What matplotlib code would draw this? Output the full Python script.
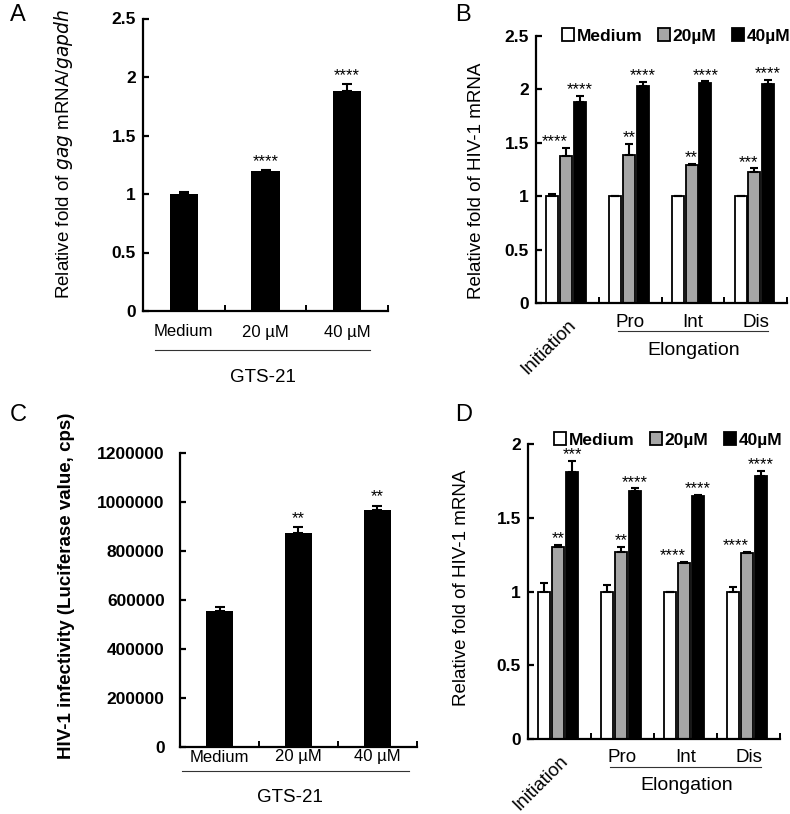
import matplotlib
matplotlib.use('Agg')
import matplotlib.pyplot as plt
from matplotlib.patches import Patch

plt.rcParams['font.family'] = ['Liberation Sans', 'DejaVu Sans']

W, H = 790, 814

# panel A
a_labels = ['Medium', '20 µM', '40 µM']
a_values = [1.00, 1.20, 1.88]
a_errors = [0.02, 0.005, 0.06]
a_stars = ['', '****', '****']

# panel B
groups = ['Initiation', 'Pro', 'Int', 'Dis']
series = ['Medium', '20µM', '40µM']
b_medium = [1.00, 1.00, 1.00, 1.00]
b_20 = [1.38, 1.39, 1.29, 1.23]
b_40 = [1.88, 2.03, 2.06, 2.05]
b_medium_err = [0.02, 0.0, 0.0, 0.0]
b_20_err = [0.07, 0.10, 0.01, 0.03]
b_40_err = [0.06, 0.04, 0.015, 0.04]
b_20_stars = ['****', '**', '**', '***']
b_40_stars = ['****', '****', '****', '****']

# panel C
c_labels = ['Medium', '20 µM', '40 µM']
c_values = [555000, 872000, 967000]
c_errors = [15000, 25000, 17000]
c_stars = ['', '**', '**']

# panel D
d_medium = [1.00, 1.00, 1.00, 1.00]
d_20 = [1.30, 1.27, 1.195, 1.263]
d_40 = [1.81, 1.68, 1.65, 1.78]
d_medium_err = [0.06, 0.045, 0.0, 0.03]
d_20_err = [0.015, 0.035, 0.005, 0.004]
d_40_err = [0.075, 0.02, 0.004, 0.04]
d_20_stars = ['**', '**', '****', '****']
d_40_stars = ['***', '****', '****', '****']

colors = ['white', '#a6a6a6', 'black']

fig = plt.figure(figsize=(W / 100, H / 100), dpi=100)


def px_axes(left, top, right, bottom):
    # axes placed by pixel box of the plotting area
    return fig.add_axes([left / W, 1 - bottom / H, (right - left) / W, (bottom - top) / H])


def style_axes(ax, ncat, ylim, yticks, ticklabels, tick_fs=12.5, pad=5):
    ax.spines[['top', 'right']].set_visible(False)
    ax.spines[['left', 'bottom']].set_linewidth(1.6)
    ax.set_xlim(0, ncat)
    ax.set_ylim(*ylim)
    ax.set_xticks(range(1, ncat + 1))
    ax.set_yticks(yticks)
    ax.set_yticklabels(ticklabels, fontweight='bold', fontsize=tick_fs)
    ax.tick_params(axis='y', direction='in', length=4, width=1.6, pad=pad)
    ax.tick_params(axis='x', direction='in', length=4, width=1.4, labelbottom=False)


def below(ax, text, x, dpx, **kw):
    # text placed dpx pixels under the x axis
    ax.annotate(text, xy=(x, 0), xycoords=('data', 'axes fraction'),
                xytext=(0, -dpx * 0.72), textcoords='offset points',
                ha='center', va='center', annotation_clip=False, **kw)


def underline(ax, x0, x1, dpx, hpx):
    ax.plot([x0, x1], [-dpx / hpx] * 2, transform=ax.get_xaxis_transform(),
            clip_on=False, color='#333333', lw=0.8)


def stars(ax, x, top, label, dy):
    if label:
        ax.annotate(label, (x, top), textcoords='offset points', xytext=(0, dy),
                    ha='center', va='bottom', fontsize=12)


def single_panel(ax, values, errors, star_labels):
    xs = [i + 0.5 for i in range(len(values))]
    ax.bar(xs, values, width=0.35, color='black', zorder=2)
    ax.errorbar(xs, values, yerr=[[0] * len(errors), errors], fmt='none', ecolor='black',
                elinewidth=1.5, capsize=3.5, capthick=1.5, zorder=3)
    for x, v, e, s in zip(xs, values, errors, star_labels):
        stars(ax, x, v + e, s, dy=1)
    return xs


def group_panel(ax, vals, errs, star20, star40):
    offsets = [-0.24, -0.02, 0.2]
    for k, (v, e) in enumerate(zip(vals, errs)):
        xs = [i + 0.5 + offsets[k] for i in range(len(v))]
        ax.bar(xs, v, width=0.19, color=colors[k], edgecolor='black', linewidth=1.3, zorder=2)
        ax.errorbar(xs, v, yerr=[[0] * len(e), e], fmt='none', ecolor='black',
                    elinewidth=1.5, capsize=3, capthick=1.5, zorder=3)
    for i in range(len(groups)):
        # longer star strings sit a little to the left of the grey bar
        x20 = i + 0.5 + offsets[1] - 0.09 * (len(star20[i]) - 2)
        stars(ax, x20, vals[1][i] + errs[1][i], star20[i], dy=-1)
        stars(ax, i + 0.5 + offsets[2], vals[2][i] + errs[2][i], star40[i], dy=-1)
    return [Patch(facecolor=c, edgecolor='black', linewidth=1.3) for c in colors]


def legend(handles, cx, cy):
    fig.legend(handles, series, loc='center', bbox_to_anchor=(cx / W, 1 - cy / H), ncol=3,
               frameon=False, prop={'weight': 'bold', 'size': 12.5}, handlelength=0.7,
               handleheight=0.7, handletextpad=0.15, columnspacing=0.9, borderpad=0)


# ---- A ----
axA = px_axes(143, 18.5, 388, 311)
style_axes(axA, 3, (0, 2.5), [0, 0.5, 1, 1.5, 2, 2.5], ['0', '0.5', '1', '1.5', '2', '2.5'])
xsA = single_panel(axA, a_values, a_errors, a_stars)
for x, lab in zip(xsA, a_labels):
    below(axA, lab, x, 21, fontsize=12)
underline(axA, 0.15, 2.78, 39, 292.5)
below(axA, 'GTS-21', 1.47, 66, fontsize=13.5)
axA.set_ylabel('Relative fold of $\\it{gag}$ mRNA/$\\it{gapdh}$', fontsize=13.5)
axA.yaxis.set_label_coords(-0.278, 0.537)

# ---- B ----
axB = px_axes(536, 36, 787, 303)
style_axes(axB, 4, (0, 2.5), [0, 0.5, 1, 1.5, 2, 2.5], ['0', '0.5', '1', '1.5', '2', '2.5'])
hB = group_panel(axB, [b_medium, b_20, b_40], [b_medium_err, b_20_err, b_40_err],
                 b_20_stars, b_40_stars)
legend(hB, 676, 36)
axB.set_ylabel('Relative fold of HIV-1 mRNA', fontsize=13.5)
axB.yaxis.set_label_coords(-0.203, 0.457)

# ---- C ----
axC = px_axes(180, 453, 417, 747)
c_ticks = list(range(0, 1200001, 200000))
style_axes(axC, 3, (0, 1200000), c_ticks, [str(v) for v in c_ticks], pad=11)
xsC = single_panel(axC, c_values, c_errors, c_stars)
for x, lab in zip(xsC, c_labels):
    below(axC, lab, x, 10, fontsize=12)
underline(axC, 0.03, 2.9, 24, 294)
below(axC, 'GTS-21', 1.39, 50, fontsize=13.5)
axC.set_ylabel('HIV-1 infectivity (Luciferase value, cps)', fontsize=13.5, fontweight='bold')
axC.yaxis.set_label_coords(-0.443, 0.548)

# ---- D ----
axD = px_axes(528, 444, 780, 739)
style_axes(axD, 4, (0, 2), [0, 0.5, 1, 1.5, 2], ['0', '0.5', '1', '1.5', '2'])
hD = group_panel(axD, [d_medium, d_20, d_40], [d_medium_err, d_20_err, d_40_err],
                 d_20_stars, d_40_stars)
legend(hD, 668, 440)
axD.set_ylabel('Relative fold of HIV-1 mRNA', fontsize=13.5)
axD.yaxis.set_label_coords(-0.23, 0.512)

# group labels for B and D
for ax, hpx in [(axB, 267), (axD, 295)]:
    ax.annotate(groups[0], xy=(0.5, 0), xycoords=('data', 'axes fraction'),
                xytext=(0, -10), textcoords='offset points', rotation=45,
                rotation_mode='anchor', ha='right', va='top', fontsize=13.5,
                annotation_clip=False)
    for i, g in enumerate(groups[1:], start=1):
        below(ax, g, i + 0.5, 19, fontsize=13.5)
    underline(ax, 1.3, 3.7, 28, hpx)
    below(ax, 'Elongation', 2.52, 47, fontsize=14)

# panel letters
for letter, (x, y) in zip('ABCD', [(10, 15), (455, 15), (10, 415), (455, 415)]):
    fig.text(x / W, 1 - y / H, letter, fontsize=17, va='center', ha='left')

fig.savefig('out.png', dpi=100)
